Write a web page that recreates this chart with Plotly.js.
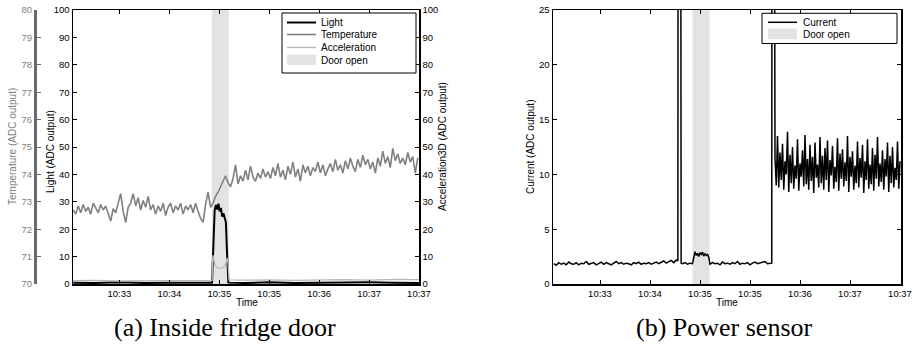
<!DOCTYPE html>
<html>
<head>
<meta charset="utf-8">
<script src="https://cdn.plot.ly/plotly-3.0.1.min.js"></script>
<style>html,body{margin:0;padding:0;background:#fff;}#chart{width:918px;height:346px;}</style>
</head>
<body>
<div id="chart"></div>
<script>
// ---- time axis (seconds after 10:32:00) ----
const tickTimes = [80, 120, 160, 200, 240, 280, 320];
const tickLabels = ["10:33", "10:34", "10:35", "10:35", "10:36", "10:37", "10:37"];
const doorStart = 154;
const doorEnd = 167.6;

// ---- (a) inside fridge door ----
const tempStart = 43, tempStep = 2;
const temperature = [
  72.70,72.55,72.85,72.60,72.90,72.65,72.80,72.55,72.95,72.75,
  72.60,72.90,72.70,72.85,72.55,72.30,72.75,72.60,72.95,73.30,
  72.65,72.25,72.80,72.95,73.30,72.85,73.15,72.70,73.05,72.80,
  73.20,72.70,72.90,72.55,72.85,72.65,72.95,72.50,72.80,72.95,
  72.60,72.85,72.70,72.95,72.55,72.85,72.70,72.90,72.60,72.95,
  72.65,72.40,72.25,72.90,73.35,72.80,
  72.95,73.20,73.35,73.55,73.80,73.95,73.70,
  73.55,73.85,74.35,73.65,73.95,73.75,74.15,73.80,74.30,73.90,
  73.75,74.05,73.85,74.20,73.90,74.10,73.85,74.25,73.95,74.40,
  73.90,74.15,73.80,74.30,74.00,74.45,73.90,74.20,73.75,74.35,
  74.05,74.30,73.95,74.25,74.10,74.45,74.05,74.35,73.95,74.20,
  74.40,74.10,74.55,74.15,74.35,74.05,74.50,74.20,74.60,74.30,
  74.10,74.55,74.25,74.70,74.35,74.55,74.20,74.45,74.05,74.60,
  74.30,74.85,74.40,74.65,74.25,74.95,74.50,74.75,74.40,74.60,
  74.35,74.80,74.45,74.65,74.05,74.60
];
const lightTime = [43,60,80,100,120,140,154.2,155,156.3,157.3,158.3,159.3,160.3,161.3,162.3,163.3,164.3,165.3,166.2,167.3,180,200,220,240,260,280,300,320];
const lightVal  = [0.5,0.4,0.6,0.4,0.5,0.4,0.5,11,27,28.8,27.2,29.3,26.5,27.8,24.6,25.8,23.8,22.5,11.5,0.5,0.4,0.6,0.4,0.5,0.4,0.6,0.5,0.4];
const accelTime = [43,60,80,100,120,140,154.3,154.8,155.5,156.5,158,160,162,164,165.5,166.5,167.2,167.8,180,200,220,240,260,280,300,320];
const accelVal  = [1.2,1.3,1.1,1.2,1.3,1.2,1.3,10.5,8.8,7.2,6.0,5.7,5.8,6.3,7.8,9.5,6.0,1.5,1.4,1.5,1.3,1.5,1.6,1.4,1.7,1.6];

// ---- (b) power sensor ----
const currentBase1 = [
  1.85,1.70,1.95,1.80,1.90,1.75,2.00,1.85,1.80,1.95,
  1.75,1.90,1.85,2.05,1.80,1.90,1.95,1.75,1.85,2.00,
  1.80,1.95,1.85,1.75,1.90,2.05,1.85,1.95,1.80,1.90,
  1.85,1.75,1.95,1.85,2.00,1.80,1.90,1.85,1.95,1.80,
  1.90,2.00,1.85,1.95,2.10,1.90,2.05,2.15,1.95,2.20
];
const currentSpike1Time = [142.3,142.5,144.6,144.9];
const currentSpike1Val  = [2.1,40,40,1.9];
const currentBase2 = [1.85,1.95,1.80,1.90,1.85];
const currentDoor = [2.55,2.95,2.60,2.80,2.50,2.85,2.70,2.90,2.55,2.75,2.60,2.70,2.45];
const currentBase3 = [1.80,1.95,1.85,1.90,1.75,2.00,1.85,1.90,1.80,1.95,1.85,2.05,1.80,1.90,1.85,1.95,1.75,1.90,2.00,1.85,1.90,1.95,2.05,1.85,1.90];
const currentSpike2Time = [217.4,217.6,219.5];
const currentSpike2Val  = [1.9,40,40];
const currentOsc = [
  11.5,9.0,13.5,8.8,12.0,9.5,12.8,8.6,11.2,10.0,
  13.9,8.4,11.8,9.2,12.5,8.7,10.8,9.6,13.2,8.5,
  11.0,9.8,12.2,8.9,13.6,9.1,11.4,8.6,12.7,9.4,
  11.6,8.3,12.9,9.7,10.9,8.8,13.4,9.2,11.7,8.6,
  12.4,9.5,13.1,8.4,11.3,9.9,12.6,8.7,10.7,9.3,
  13.3,8.5,11.9,9.6,12.3,8.9,11.1,9.4,13.5,8.4,
  11.6,9.8,12.1,8.6,10.8,9.2,13.0,8.8,11.5,9.7,
  12.7,8.3,11.2,9.5,13.2,8.7,10.9,9.1,12.4,8.5,
  11.8,9.6,13.4,8.9,11.0,9.3,12.2,8.6,11.4,9.8,
  12.9,8.4,11.7,9.2,12.5,8.8,10.6,9.5,13.0,8.7,11.2
];

function seq(start, step, n) { const a = []; for (let i = 0; i < n; i++) a.push(start + i * step); return a; }

const tempTime = seq(tempStart, tempStep, temperature.length);
const currentTime = [].concat(
  seq(43, 2, currentBase1.length), currentSpike1Time,
  seq(146, 2, currentBase2.length), seq(155, 1, currentDoor.length),
  seq(168, 2, currentBase3.length), currentSpike2Time,
  seq(220, 1, currentOsc.length));
const currentVal = [].concat(currentBase1, currentSpike1Val, currentBase2, currentDoor, currentBase3, currentSpike2Val, currentOsc);

// ---- geometry helpers (pixel -> paper) ----
const W = 918, H = 346;
const PX = p => p / W, PY = p => 1 - p / H;
const yDom = [PY(284), PY(10)];
const FONT = "Liberation Sans, Arial, sans-serif";
const tickFont = {family: FONT, size: 9.5, color: "#000"};

const traces = [
  {x: lightTime, y: lightVal, type: "scatter", mode: "lines", xaxis: "x", yaxis: "y", line: {color: "#000", width: 2}, name: "Light"},
  {x: tempTime, y: temperature, type: "scatter", mode: "lines", xaxis: "x", yaxis: "y2", line: {color: "#808080", width: 1.6}, name: "Temperature"},
  {x: accelTime, y: accelVal, type: "scatter", mode: "lines", xaxis: "x", yaxis: "y3", line: {color: "#b8b8b8", width: 1.3}, name: "Acceleration"},
  {x: currentTime, y: currentVal, type: "scatter", mode: "lines", xaxis: "x2", yaxis: "y4", line: {color: "#000", width: 1.5}, name: "Current"}
];

const axBase = {showgrid: false, zeroline: false, showline: true, linecolor: "#000", linewidth: 1.5,
  ticks: "inside", ticklen: 4, tickwidth: 1, tickcolor: "#000", tickfont: tickFont, fixedrange: true};

const layout = {
  width: W, height: H, margin: {l: 0, r: 0, t: 0, b: 0}, showlegend: false,
  paper_bgcolor: "#fff", plot_bgcolor: "#fff",
  xaxis: Object.assign({}, axBase, {domain: [PX(73), PX(419)], range: [42.8, 320], anchor: "y",
    tickmode: "array", tickvals: tickTimes, ticktext: tickLabels, mirror: "ticks"}),
  yaxis: Object.assign({}, axBase, {domain: yDom, range: [0, 100], dtick: 10, anchor: "x", side: "left"}),
  yaxis2: Object.assign({}, axBase, {range: [70, 80], dtick: 1, overlaying: "y", anchor: "free", position: PX(35), side: "left",
    linecolor: "#6a6a6a", linewidth: 3, tickcolor: "#6a6a6a", tickfont: {family: FONT, size: 9.5, color: "#808080"}}),
  yaxis3: Object.assign({}, axBase, {range: [0, 100], dtick: 10, overlaying: "y", anchor: "x", side: "right"}),
  xaxis2: Object.assign({}, axBase, {domain: [PX(553), PX(901)], range: [42.4, 320.8], anchor: "y4",
    tickmode: "array", tickvals: tickTimes, ticktext: tickLabels, mirror: "ticks"}),
  yaxis4: Object.assign({}, axBase, {domain: yDom, range: [0, 25], dtick: 5, anchor: "x2", mirror: "ticks"}),
  shapes: [
    {type: "rect", xref: "x", yref: "paper", x0: doorStart, x1: doorEnd, y0: yDom[0], y1: yDom[1], fillcolor: "#e3e3e3", line: {width: 0}, layer: "below"},
    {type: "rect", xref: "x2", yref: "paper", x0: doorStart, x1: doorEnd, y0: yDom[0], y1: yDom[1], fillcolor: "#e3e3e3", line: {width: 0}, layer: "below"},
    // legend (a)
    {type: "rect", xref: "paper", yref: "paper", x0: PX(282), x1: PX(416), y0: PY(73), y1: PY(13), fillcolor: "#fff", line: {color: "#000", width: 1}, layer: "above"},
    {type: "line", xref: "paper", yref: "paper", x0: PX(287), x1: PX(316), y0: PY(22.5), y1: PY(22.5), line: {color: "#000", width: 2}, layer: "above"},
    {type: "line", xref: "paper", yref: "paper", x0: PX(287), x1: PX(316), y0: PY(34.5), y1: PY(34.5), line: {color: "#808080", width: 1.6}, layer: "above"},
    {type: "line", xref: "paper", yref: "paper", x0: PX(287), x1: PX(316), y0: PY(47.5), y1: PY(47.5), line: {color: "#b8b8b8", width: 1.3}, layer: "above"},
    {type: "rect", xref: "paper", yref: "paper", x0: PX(287), x1: PX(316), y0: PY(65), y1: PY(54.5), fillcolor: "#e3e3e3", line: {width: 0}, layer: "above"},
    // legend (b)
    {type: "rect", xref: "paper", yref: "paper", x0: PX(762), x1: PX(897), y0: PY(43.5), y1: PY(13.3), fillcolor: "#fff", line: {color: "#000", width: 1}, layer: "above"},
    {type: "line", xref: "paper", yref: "paper", x0: PX(768), x1: PX(797), y0: PY(22.3), y1: PY(22.3), line: {color: "#000", width: 1.5}, layer: "above"},
    {type: "rect", xref: "paper", yref: "paper", x0: PX(768), x1: PX(797), y0: PY(39.3), y1: PY(28.5), fillcolor: "#e3e3e3", line: {width: 0}, layer: "above"}
  ],
  annotations: []
};

function ann(text, x, y, opts) {
  layout.annotations.push(Object.assign({text: text, xref: "paper", yref: "paper", x: PX(x), y: PY(y),
    xanchor: "center", yanchor: "middle", showarrow: false,
    font: {family: FONT, size: 10, color: "#000"}}, opts || {}));
}
ann("Temperature (ADC output)", 12, 147, {textangle: -90, font: {family: FONT, size: 10, color: "#808080"}});
ann("Light (ADC output)", 50, 152, {textangle: -90});
ann("Acceleration3D (ADC output)", 442, 147, {textangle: -90});
ann("Current (ADC output)", 530, 147, {textangle: -90});
ann("Time", 247, 302);
ann("Time", 727, 302);
ann("Light", 319, 22.5, {xanchor: "left"});
ann("Temperature", 319, 34.5, {xanchor: "left"});
ann("Acceleration", 319, 47.5, {xanchor: "left"});
ann("Door open", 319, 60, {xanchor: "left"});
ann("Current", 801, 22.3, {xanchor: "left"});
ann("Door open", 801, 34, {xanchor: "left"});
ann("(a) Inside fridge door", 225, 327, {font: {family: "Liberation Serif, serif", size: 26, color: "#000"}});
ann("(b) Power sensor", 724.5, 327, {font: {family: "Liberation Serif, serif", size: 26, color: "#000"}});

Plotly.newPlot("chart", traces, layout, {staticPlot: true, displayModeBar: false});
</script>
</body>
</html>
